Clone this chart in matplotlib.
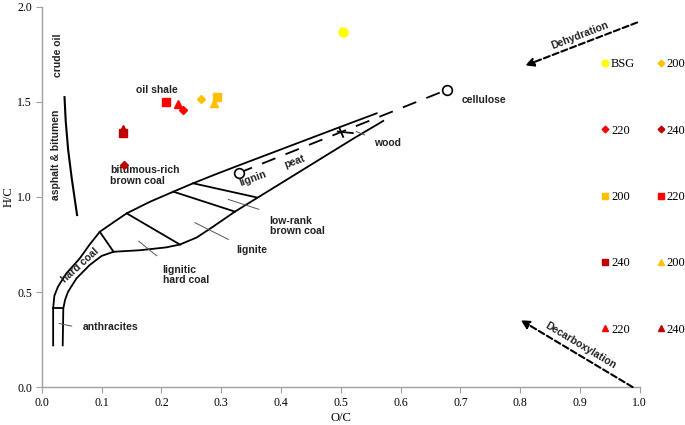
import numpy as np
import matplotlib.pyplot as plt

# ---- sample data (O/C, H/C) ----
bsg_oc = [0.503]
bsg_hc = [1.87]
temps = ['200', '220', '240']
temp_colors = ['#FFC000', '#FF0000', '#C00000']
diamond_oc = [0.266, 0.236, 0.137]
diamond_hc = [1.515, 1.46, 1.17]
square_oc = [0.293, 0.207, 0.135]
square_hc = [1.525, 1.50, 1.335]
triangle_oc = [0.288, 0.228, 0.135]
triangle_hc = [1.495, 1.49, 1.36]

# ---- van Krevelen background (coal band) ----
outer_oc = [0.019, 0.019, 0.021, 0.027, 0.041, 0.0635, 0.080, 0.097, 0.119, 0.142,
            0.181, 0.220, 0.253, 0.292, 0.331, 0.42, 0.498, 0.56]
outer_hc = [0.22, 0.414, 0.48, 0.528, 0.598, 0.677, 0.750, 0.817, 0.865, 0.914,
            0.975, 1.028, 1.072, 1.121, 1.168, 1.274, 1.367, 1.44]
inner_oc = [0.035, 0.036, 0.039, 0.044, 0.058, 0.080, 0.100, 0.120, 0.164, 0.208,
            0.231, 0.259, 0.286, 0.323, 0.454, 0.52, 0.571]
inner_hc = [0.22, 0.414, 0.46, 0.502, 0.572, 0.642, 0.690, 0.712, 0.720, 0.735,
            0.750, 0.787, 0.843, 0.923, 1.177, 1.305, 1.40]
dividers = [((0.019, 0.036), (0.414, 0.414)),
            ((0.097, 0.120), (0.817, 0.712)),
            ((0.142, 0.231), (0.914, 0.750)),
            ((0.220, 0.323), (1.028, 0.923)),
            ((0.253, 0.359), (1.072, 0.998)),
            ((0.498, 0.504), (1.36, 1.316)),
            ((0.495, 0.520), (1.344, 1.336))]
pointers = [((0.029, 0.050), (0.335, 0.321)),
            ((0.162, 0.192), (0.768, 0.691)),
            ((0.256, 0.312), (0.865, 0.777)),
            ((0.312, 0.363), (0.987, 0.935)),
            ((0.526, 0.540), (1.344, 1.326))]
asphalt_oc = [0.038, 0.040, 0.044, 0.050, 0.059]
asphalt_hc = [1.525, 1.40, 1.25, 1.10, 0.905]
lignin = (0.329, 1.126)
cellulose = (0.677, 1.563)

serif = 'Liberation Serif'
sans = 'Liberation Sans'

fig = plt.figure(figsize=(6.85, 4.25), dpi=100)
ax = fig.add_axes([0.061, 0.089, 0.873, 0.895])

lw = 1.3
ax.plot(outer_oc, outer_hc, color='black', lw=lw)
ax.plot(inner_oc, inner_hc, color='black', lw=lw)
for xs, ys in dividers:
    ax.plot(xs, ys, color='black', lw=lw)
for xs, ys in pointers:
    ax.plot(xs, ys, color='#555555', lw=0.7)
ax.plot(asphalt_oc, asphalt_hc, color='black', lw=1.5)
ax.plot([lignin[0], cellulose[0]], [lignin[1], cellulose[1]], color='black',
        lw=lw, dashes=(8, 6))
ax.plot([lignin[0], cellulose[0]], [lignin[1], cellulose[1]], 'o', ms=7,
        mfc='white', mec='black', mew=1.2, zorder=3)

# arrows
ax.annotate('', xy=(0.804, 1.686), xytext=(1.0, 1.923),
            arrowprops=dict(arrowstyle='-|>,head_length=0.5,head_width=0.25',
                            ls=(0, (3, 1.5)), lw=1.5, color='black'))
ax.annotate('', xy=(0.797, 0.36), xytext=(0.992, -0.007),
            arrowprops=dict(arrowstyle='-|>,head_length=0.5,head_width=0.25',
                            ls=(0, (3, 1.5)), lw=1.5, color='black'),
            annotation_clip=False)

# labels
tk = dict(fontfamily=sans, fontweight='bold', fontsize=7.5, color='#222222')
ax.text(0.027, 1.745, 'crude oil', rotation=90, ha='center', va='center', **tk)
ax.text(0.023, 1.22, 'asphalt & bitumen', rotation=90, ha='center', va='center', **tk)
ax.text(0.192, 1.56, 'oil shale', ha='center', va='center', **tk)
ax.text(0.114, 1.115, 'bitumous-rich\nbrown coal', ha='left', va='center',
        linespacing=1.1, **tk)
ax.text(0.352, 1.095, 'lignin', rotation=20, ha='center', va='center', **tk)
ax.text(0.423, 1.186, 'peat', rotation=20, ha='center', va='center', **tk)
ax.text(0.579, 1.286, 'wood', ha='center', va='center', **tk)
ax.text(0.739, 1.51, 'cellulose', ha='center', va='center', **tk)
ax.text(0.381, 0.847, 'low-rank\nbrown coal', ha='left', va='center',
        linespacing=1.1, **tk)
ax.text(0.326, 0.72, 'lignite', ha='left', va='center', **tk)
ax.text(0.202, 0.59, 'lignitic\nhard coal', ha='left', va='center',
        linespacing=1.1, **tk)
ax.text(0.0635, 0.642, 'hard coal', rotation=42, ha='center', va='center', **tk)
ax.text(0.069, 0.317, 'anthracites', ha='left', va='center', **tk)
ax.text(0.90, 1.847, 'Dehydration', rotation=21, ha='center', va='center', **tk)
ax.text(0.90, 0.22, 'Decarboxylation', rotation=-31, ha='center', va='center', **tk)

# samples
bsg = ax.plot(bsg_oc, bsg_hc, 'o', ms=6.5, color='#FFFF00', label='BSG', zorder=4)[0]
dia, sq, tri = [], [], []
for i, t in enumerate(temps):
    dia.append(ax.plot(diamond_oc[i], diamond_hc[i], 'D', ms=4.5, color=temp_colors[i],
                       label=t, zorder=4)[0])
    sq.append(ax.plot(square_oc[i], square_hc[i], 's', ms=6, color=temp_colors[i],
                      label=t, zorder=4)[0])
    tri.append(ax.plot(triangle_oc[i], triangle_hc[i], '^', ms=6, color=temp_colors[i],
                       label=t, zorder=4)[0])
handles = [bsg, dia[1], sq[0], sq[2], tri[1], dia[0], dia[2], sq[1], tri[0], tri[2]]
labels = [h.get_label() for h in handles]
fig.legend(handles, labels, loc='upper left', bbox_to_anchor=(0.871, 0.875),
           ncol=2, frameon=False, prop=dict(family=serif, size=9),
           markerscale=0.75, handlelength=0.6, handletextpad=0.15,
           columnspacing=1.75, labelspacing=4.35, borderaxespad=0)

# axes styling
ax.set_xlim(0, 1)
ax.set_ylim(0, 2)
ax.set_xticks(np.arange(0, 1.01, 0.1))
ax.set_yticks(np.arange(0, 2.01, 0.5))
ax.set_xticklabels([f'{v:.1f}' for v in np.arange(0, 1.01, 0.1)], fontfamily=serif, fontsize=8.5)
ax.set_yticklabels([f'{v:.1f}' for v in np.arange(0, 2.01, 0.5)], fontfamily=serif, fontsize=8.5)
for s in ['top', 'right']:
    ax.spines[s].set_visible(False)
for s in ['left', 'bottom']:
    ax.spines[s].set_color('#A0A0A0')
    ax.spines[s].set_linewidth(1.0)
ax.tick_params(direction='out', length=4, color='#A0A0A0', pad=3)
ax.set_xlabel('O/C', fontfamily=serif, fontsize=9, labelpad=2)
ax.set_ylabel('H/C', fontfamily=serif, fontsize=9, labelpad=2)

fig.savefig('out.png', dpi=100)
